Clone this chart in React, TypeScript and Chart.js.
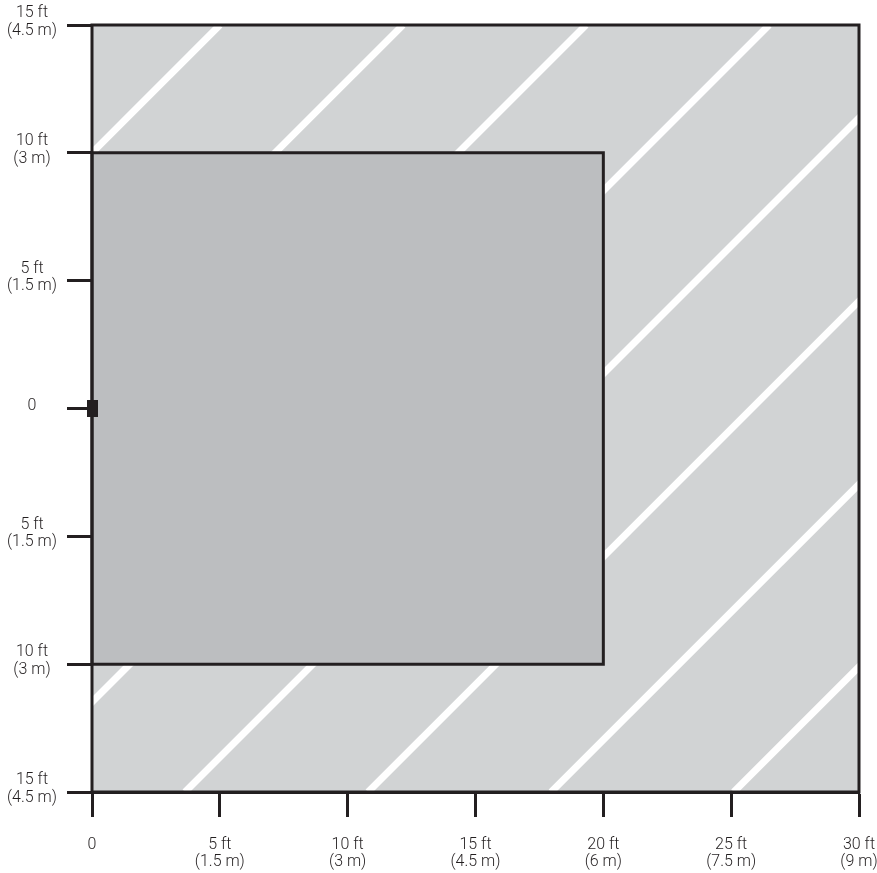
import React, { useEffect, useRef } from "react";
import { Chart, registerables } from "chart.js";

Chart.register(...registerables);

// Axis tick labels (feet / metres)
const xTickFeet = ["0", "5 ft", "10 ft", "15 ft", "20 ft", "25 ft", "30 ft"];
const xTickMetres = ["", "(1.5 m)", "(3 m)", "(4.5 m)", "(6 m)", "(7.5 m)", "(9 m)"];
const yTickFeet = ["0", "5 ft", "10 ft", "15 ft"];
const yTickMetres = ["", "(1.5 m)", "(3 m)", "(4.5 m)"];

// Outer (detection) zone, ft
const outerZoneX = [0, 0, 30, 30, 0];
const outerZoneY = [-15, 15, 15, -15, -15];

// Inner zone, ft
const innerZoneX = [0, 0, 20, 20, 0];
const innerZoneY = [-10, 10, 10, -10, -10];

// Sensor position, ft
const sensorX = [0];
const sensorY = [0];

// Diagonal hatch stripes: offsets (x - y) in ft
const stripeOffsets = [-10, -2.84, 4.32, 11.48, 18.64, 25.8, 32.96, 40.1];

const INK = "#231f20";

function toPoints(xs: number[], ys: number[]) {
  return xs.map((x, i) => ({ x, y: ys[i] }));
}

export default function App() {
  const canvasRef = useRef<HTMLCanvasElement | null>(null);

  useEffect(() => {
    if (!canvasRef.current) return;

    const marker = document.createElement("canvas");
    marker.width = 11;
    marker.height = 17;
    const mctx = marker.getContext("2d");
    if (mctx) {
      mctx.fillStyle = INK;
      mctx.fillRect(0, 0, 11, 17);
    }

    const tickFont = { family: "Roboto, 'Liberation Sans', sans-serif", size: 16, weight: 300 as any, lineHeight: 1.1 };

    const stripeSets = stripeOffsets.map((k) => ({
      data: [
        { x: k - 15, y: -15 },
        { x: k + 15, y: 15 },
      ],
      showLine: true,
      borderColor: "#ffffff",
      borderWidth: 7,
      pointRadius: 0,
      fill: false,
      clip: 0,
    }));

    const chart = new Chart(canvasRef.current, {
      type: "scatter",
      data: {
        datasets: [
          {
            data: toPoints(sensorX, sensorY),
            showLine: false,
            pointStyle: marker as any,
            pointRadius: 9,
            clip: false as any,
          },
          {
            data: toPoints(outerZoneX, outerZoneY),
            showLine: true,
            borderColor: INK,
            borderWidth: 3,
            borderJoinStyle: "miter",
            pointRadius: 0,
            fill: false,
            clip: false as any,
          },
          {
            data: toPoints(innerZoneX, innerZoneY),
            showLine: true,
            borderColor: INK,
            borderWidth: 3,
            borderJoinStyle: "miter",
            backgroundColor: "#bcbec0",
            pointRadius: 0,
            fill: "shape",
            clip: false as any,
          },
          ...stripeSets,
          {
            data: toPoints(outerZoneX, outerZoneY),
            showLine: true,
            borderWidth: 0,
            borderColor: "rgba(0,0,0,0)",
            backgroundColor: "#d1d3d4",
            pointRadius: 0,
            fill: "shape",
          },
        ] as any,
      },
      options: {
        animation: false,
        responsive: true,
        maintainAspectRatio: false,
        layout: { padding: { left: 0, top: 25, right: 18, bottom: 0 } },
        plugins: {
          legend: { display: false },
          tooltip: { enabled: false },
        },
        events: [],
        scales: {
          x: {
            type: "linear",
            min: 0,
            max: 30,
            afterFit: (scale: any) => {
              scale.height = 81;
              scale.paddingLeft = 0;
              scale.paddingRight = 0;
            },
            border: { display: true, color: INK, width: 3 },
            grid: {
              display: true,
              drawOnChartArea: false,
              drawTicks: true,
              tickLength: 25,
              tickWidth: 3,
              tickColor: INK,
              color: INK,
            },
            ticks: {
              stepSize: 5,
              autoSkip: false,
              maxRotation: 0,
              padding: 19,
              color: INK,
              font: tickFont,
              callback: (value: any) => {
                const i = Math.round(Math.abs(Number(value)) / 5);
                return xTickMetres[i] ? [xTickFeet[i], xTickMetres[i]] : xTickFeet[i];
              },
            },
          },
          y: {
            type: "linear",
            min: -15,
            max: 15,
            afterFit: (scale: any) => {
              scale.width = 92;
              scale.paddingTop = 0;
              scale.paddingBottom = 0;
            },
            border: { display: true, color: INK, width: 3 },
            grid: {
              display: true,
              drawOnChartArea: false,
              drawTicks: true,
              tickLength: 25,
              tickWidth: 3,
              tickColor: INK,
              color: INK,
            },
            ticks: {
              stepSize: 5,
              autoSkip: false,
              padding: 10,
              labelOffset: -3,
              crossAlign: "center",
              color: INK,
              font: tickFont,
              callback: (value: any) => {
                const i = Math.round(Math.abs(Number(value)) / 5);
                return yTickMetres[i] ? [yTickFeet[i], yTickMetres[i]] : yTickFeet[i];
              },
            },
          },
        },
      } as any,
    });

    return () => {
      chart.destroy();
    };
  }, []);

  return (
    <div style={{ position: "absolute", left: 0, top: 0, width: 877, height: 873, background: "#ffffff" }}>
      <canvas ref={canvasRef} />
    </div>
  );
}
